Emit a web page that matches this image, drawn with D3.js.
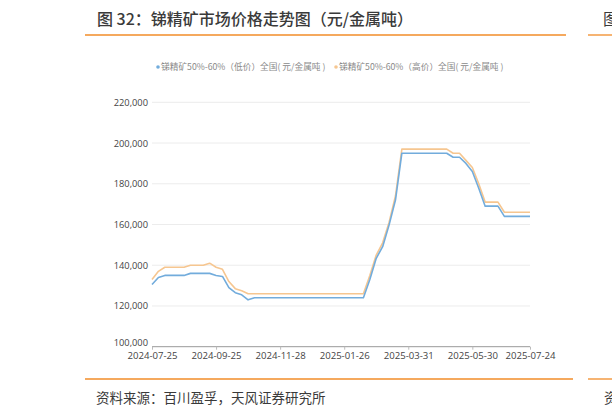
<!DOCTYPE html>
<html><head><meta charset="utf-8">
<script src="https://cdn.jsdelivr.net/npm/d3@7"></script>
<style>
body{margin:0;background:#fff;}
svg{display:block;font-family:"Noto Sans CJK SC","Noto Sans",sans-serif;}
</style></head>
<body><svg id="c" width="612" height="415"></svg>
<script>
const dates = [
"2024-07-25","2024-08-01","2024-08-07","2024-08-13","2024-08-19","2024-08-26","2024-09-02","2024-09-09","2024-09-13","2024-09-19",
"2024-09-25","2024-10-08","2024-10-14","2024-10-18","2024-10-24","2024-10-30","2024-11-05","2024-11-11","2024-11-15","2024-11-21",
"2024-11-28","2024-12-04","2024-12-10","2024-12-16","2024-12-20","2024-12-26","2025-01-02","2025-01-08","2025-01-14","2025-01-20",
"2025-01-26","2025-02-05","2025-02-10","2025-02-14","2025-02-20","2025-02-26","2025-03-04","2025-03-10","2025-03-14","2025-03-20",
"2025-03-31","2025-04-07","2025-04-11","2025-04-17","2025-04-23","2025-04-29","2025-05-08","2025-05-14","2025-05-20","2025-05-26",
"2025-05-30","2025-06-06","2025-06-12","2025-06-18","2025-06-24","2025-06-30","2025-07-04","2025-07-10","2025-07-16","2025-07-24"];
const lowPrice = [
130500,134000,135000,135000,135000,135000,136000,136000,136000,136000,
135000,134500,129000,126500,125500,123000,124000,124000,124000,124000,
124000,124000,124000,124000,124000,124000,124000,124000,124000,124000,
124000,124000,124000,124000,133000,143400,149100,159700,172000,195000,
195000,195000,195000,195000,195000,195000,195000,193000,193000,190000,
186000,177800,169000,169000,169000,164000,164000,164000,164000,164000];
const highPrice = [
133000,137000,139000,139000,139000,139000,140000,140000,140000,141000,
139000,138000,132000,128500,127500,126000,126000,126000,126000,126000,
126000,126000,126000,126000,126000,126000,126000,126000,126000,126000,
126000,126000,126000,126000,135000,145000,151000,161000,174000,197000,
197000,197000,197000,197000,197000,197000,197000,195000,195000,191500,
188000,180000,171000,171000,171000,166000,166000,166000,166000,166000];
const xTickLabels = ["2024-07-25","2024-09-25","2024-11-28","2025-01-26","2025-03-31","2025-05-30","2025-07-24"];
const yTicks = [100000,120000,140000,160000,180000,200000,220000];
const seriesNames = ["锑精矿50%-60%（低价）全国( 元/金属吨 )","锑精矿50%-60%（高价）全国( 元/金属吨 )"];
const title = "图 32：锑精矿市场价格走势图（元/金属吨）";
const source = "资料来源：百川盈孚，天风证券研究所";

const svg = d3.select("#c");
const orange = "#f28c28";
const colors = ["#72acdc","#f6c690"];

// title & rules
svg.append("text").attr("x",97).attr("y",25).attr("font-size",16).attr("fill","#3a3a3a").attr("font-weight",500).text(title);
svg.append("line").attr("x1",85).attr("x2",566).attr("y1",35).attr("y2",35).attr("stroke",orange).attr("stroke-width",1.3);
svg.append("line").attr("x1",588).attr("x2",612).attr("y1",35).attr("y2",35).attr("stroke",orange).attr("stroke-width",1.3);
svg.append("text").attr("x",603).attr("y",25).attr("font-size",16).attr("fill","#3a3a3a").text("图");
svg.append("line").attr("x1",85).attr("x2",573).attr("y1",379).attr("y2",379).attr("stroke",orange).attr("stroke-width",1.3);
svg.append("line").attr("x1",588).attr("x2",612).attr("y1",379).attr("y2",379).attr("stroke",orange).attr("stroke-width",1.3);
svg.append("text").attr("x",96).attr("y",403).attr("font-size",13.5).attr("fill","#3a3a3a").text(source);
svg.append("text").attr("x",604).attr("y",403).attr("font-size",13.5).attr("fill","#3a3a3a").text("资");

// scales
const x = d3.scalePoint().domain(dates).range([152,530]);
const y = d3.scaleLinear().domain([100000,220000]).range([346.7,102.3]);

// grid
svg.append("g").selectAll("line").data(yTicks.slice(1)).join("line")
  .attr("x1",152).attr("x2",530).attr("y1",d=>y(d)).attr("y2",d=>y(d))
  .attr("stroke","#ececec").attr("stroke-width",1);

// y axis labels
const yAxis = d3.axisLeft(y).tickValues(yTicks).tickSize(0).tickPadding(4).tickFormat(d3.format(","));
const gy = svg.append("g").attr("transform","translate(152,0)").call(yAxis);
gy.select(".domain").remove();
gy.selectAll("text").attr("font-size",9.3).attr("fill","#444").attr("font-family","'Open Sans','Noto Sans',sans-serif");
gy.selectAll(".tick").filter(d=>d===100000).select("text").attr("dy","-0.15em");

// x axis
const xAxis = d3.axisBottom(x).tickValues(xTickLabels).tickSize(3).tickPadding(2.5);
const gx = svg.append("g").attr("transform","translate(0,346.7)").call(xAxis);
gx.select(".domain").attr("stroke","#999").attr("d","M152,0H530");
gx.selectAll(".tick line").attr("stroke","#bbb");
gx.selectAll("text").attr("font-size",9.6).attr("fill","#444").attr("font-family","'Open Sans','Noto Sans',sans-serif");

// lines
const line = d3.line().x((d,i)=>x(dates[i])).y(d=>y(d));
[highPrice,lowPrice].forEach((s,k)=>{
  svg.append("path").datum(s).attr("d",line).attr("fill","none")
    .attr("stroke",k===0?colors[1]:colors[0]).attr("stroke-width",1.6).attr("stroke-linejoin","round");
});

// legend
const leg = svg.append("g").attr("font-size",8.7).attr("fill","#8a8a8a");
const lx = [158,336];
seriesNames.forEach((n,i)=>{
  leg.append("circle").attr("cx",lx[i]).attr("cy",67).attr("r",1.8).attr("fill",colors[i]);
  leg.append("text").attr("x",lx[i]+3).attr("y",70).text(n);
});
</script></body></html>
